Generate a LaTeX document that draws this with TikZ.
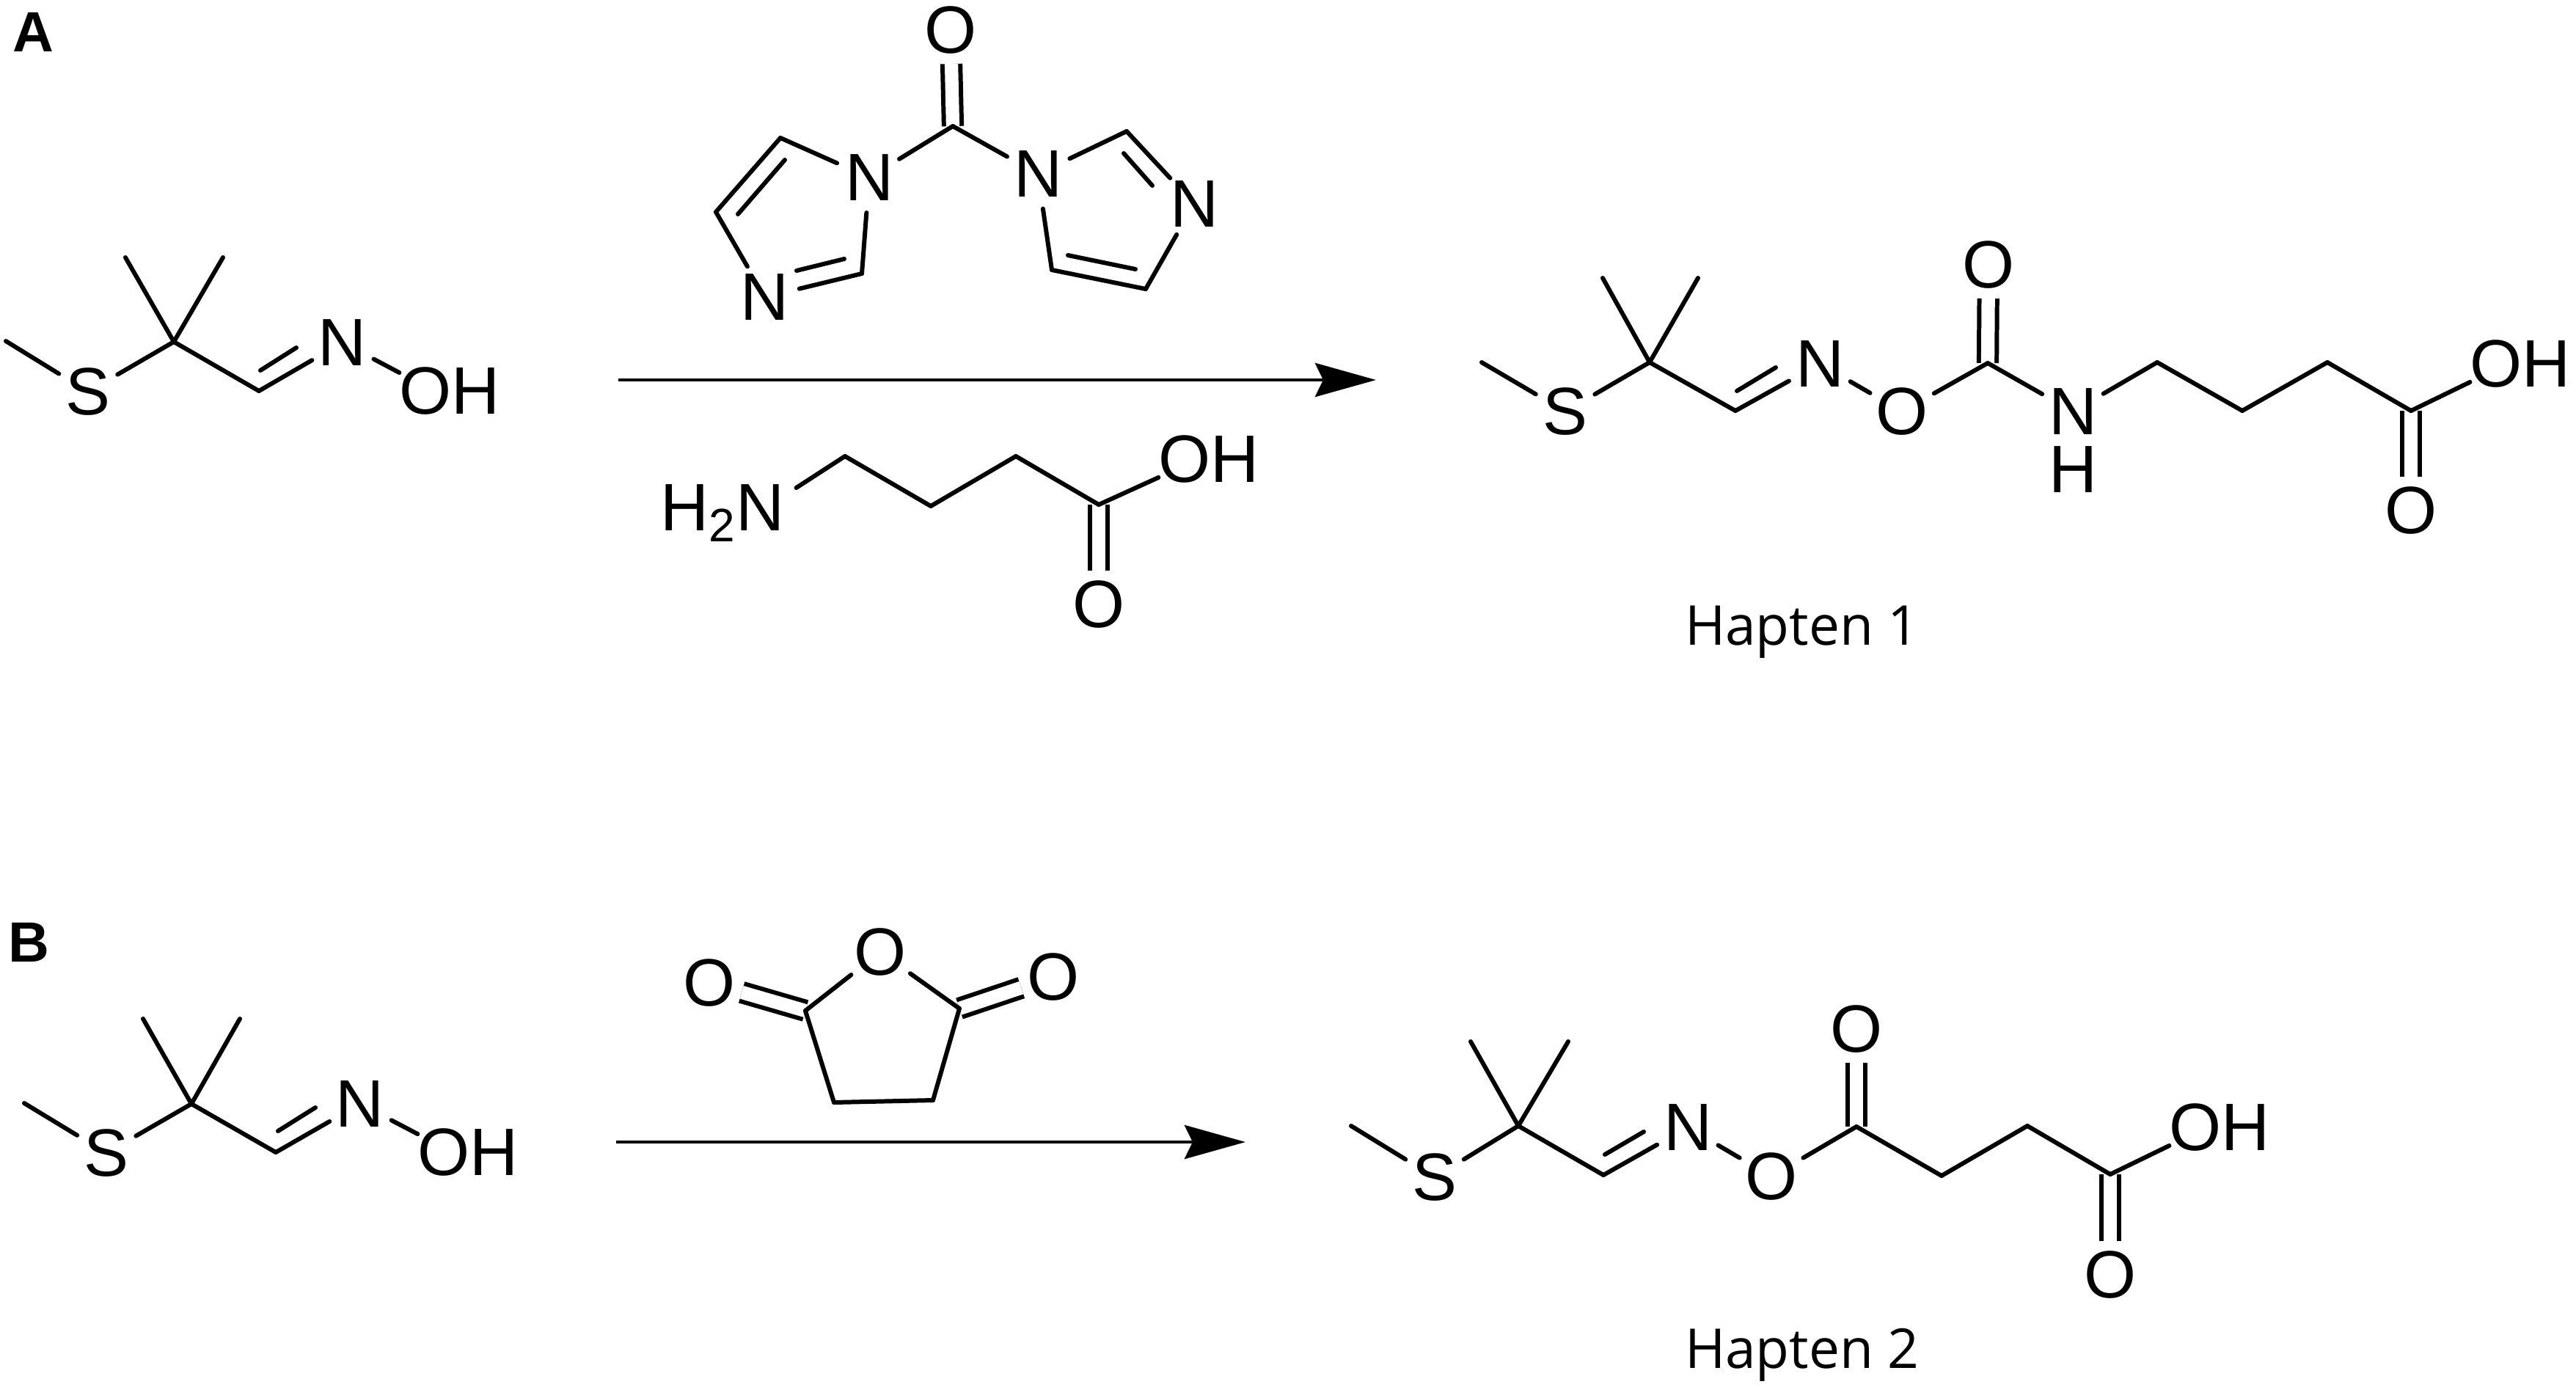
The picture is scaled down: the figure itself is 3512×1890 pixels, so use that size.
\documentclass[tikz,border=0pt]{standalone}
\usepackage{fontspec}
\setmainfont{Liberation Sans}
\newfontfamily\haptenfont{Open Sans}
\usetikzlibrary{arrows.meta}

\begin{document}
\begin{tikzpicture}[
    x=0.01cm, y=-0.01cm,
    line width=1.7pt, line cap=round,
    atom/.style={circle, inner sep=0.5pt, outer sep=0pt, text depth=0pt, font=\fontsize{26}{30}\selectfont},
    grp/.style={atom, rectangle, inner sep=0pt},
    panel/.style={inner sep=0pt, text depth=0pt, font=\fontsize{22}{26}\selectfont\bfseries},
    hapten/.style={anchor=base west, inner sep=0pt, font=\fontsize{21.3}{25}\selectfont\haptenfont},
    dbl/.style={double, double distance=5.2pt, line cap=butt, shorten >=-1.2pt},
    rxn/.style={-{Stealth[length=0.83cm, width=0.46cm, inset=0.11cm]}, line width=1.4pt, line cap=butt}
]
    \useasboundingbox (0,0) rectangle (3512,1890);

    \node[panel] (labelA) at (45,44) {A};
    \node[panel] (labelB) at (39,1285) {B};

    \coordinate (a1me) at (8,465);
    \node[atom] (a1s) at (120,534) {S};
    \coordinate (a1c) at (237,466);
    \coordinate (a1m1) at (171,351);
    \coordinate (a1m2) at (304,351);
    \coordinate (a1ch) at (353,533);
    \coordinate (a1i1) at (355,505);
    \coordinate (a1i2) at (404,474);
    \node[atom] (a1n) at (467,467) {N};
    \node[grp] (a1oh) at (613,533) {OH};

    \draw (a1me) -- (a1s); \draw (a1s) -- (a1c);
    \draw (a1c) -- (a1m1); \draw (a1c) -- (a1m2);
    \draw (a1c) -- (a1ch); \draw (a1ch) -- (a1n);
    \draw (a1i1) -- (a1i2); \draw (a1n) -- (a1oh.160);

    \node[atom] (cdo) at (1296,41) {O};
    \coordinate (cdc) at (1299,172);
    \node[atom] (ln1) at (1185,242) {N};
    \coordinate (lc1) at (1064,188);
    \coordinate (lc2) at (976,289);
    \node[atom] (ln2) at (1043,405) {N};
    \coordinate (lc3) at (1175,373);
    \coordinate (li1) at (1070,218);
    \coordinate (li2) at (1006,292);
    \coordinate (li3) at (1086,369);
    \coordinate (li4) at (1151,353);
    \node[atom] (rn1) at (1415,237) {N};
    \coordinate (rc1) at (1536,179);
    \node[atom] (rn2) at (1628,278) {N};
    \coordinate (rc2) at (1562,394);
    \coordinate (rc3) at (1434,368);
    \coordinate (ri1) at (1532,209);
    \coordinate (ri2) at (1571,253);
    \coordinate (ri3) at (1456,348);
    \coordinate (ri4) at (1548,367);

    \draw[dbl] (cdc) -- (cdo);
    \draw (cdc) -- (ln1); \draw (cdc) -- (rn1);
    \draw (ln1) -- (lc1); \draw (lc1) -- (lc2); \draw (lc2) -- (ln2);
    \draw (ln2) -- (lc3); \draw (lc3) -- (ln1);
    \draw (li1) -- (li2); \draw (li3) -- (li4);
    \draw (rn1) -- (rc1); \draw (rc1) -- (rn2); \draw (rn2) -- (rc2);
    \draw (rc2) -- (rc3); \draw (rc3) -- (rn1);
    \draw (ri1) -- (ri2); \draw (ri3) -- (ri4);

    \coordinate (arrA1) at (843,518);
    \coordinate (arrA2) at (1876,518);
    \draw[rxn] (arrA1) -- (arrA2);

    \node[grp, inner xsep=4.5pt] (gn) at (985,692) {H\textsubscript{2}N};
    \coordinate (g1) at (1152,622);
    \coordinate (g2) at (1269,690);
    \coordinate (g3) at (1385,622);
    \coordinate (g4) at (1498,688);
    \node[grp] (goh) at (1648,626) {OH};
    \node[atom] (go) at (1498,824) {O};

    \draw[dbl] (g4) -- (go);
    \draw (gn.15) -- (g1); \draw (g1) -- (g2); \draw (g2) -- (g3);
    \draw (g3) -- (g4); \draw (g4) -- (goh.200);

    \coordinate (h1me) at (2020,494);
    \node[atom] (h1s) at (2134,561) {S};
    \coordinate (h1c) at (2249,494);
    \coordinate (h1m1) at (2185,379);
    \coordinate (h1m2) at (2315,379);
    \coordinate (h1ch) at (2366,560);
    \coordinate (h1i1) at (2368,533);
    \coordinate (h1i2) at (2421,501);
    \node[atom] (h1n) at (2481,496) {N};
    \node[atom] (h1o) at (2593,561) {O};
    \coordinate (h1co) at (2710,495);
    \node[atom] (h1o2) at (2711,361) {O};
    \node[atom] (h1nh) at (2826,561) {N};
    \node[atom] (h1h) at (2826,640) {H};
    \coordinate (h1p1) at (2941,494);
    \coordinate (h1p2) at (3057,560);
    \coordinate (h1p3) at (3173,494);
    \coordinate (h1p4) at (3287,560);
    \node[grp] (h1oh) at (3436,496) {OH};
    \node[atom] (h1o3) at (3287,696) {O};
    \node[hapten] (h1name) at (2294,879) {Hapten 1};

    \draw[dbl] (h1co) -- (h1o2); \draw[dbl] (h1p4) -- (h1o3);
    \draw (h1me) -- (h1s); \draw (h1s) -- (h1c);
    \draw (h1c) -- (h1m1); \draw (h1c) -- (h1m2);
    \draw (h1c) -- (h1ch); \draw (h1ch) -- (h1n);
    \draw (h1i1) -- (h1i2); \draw (h1n) -- (h1o);
    \draw (h1o) -- (h1co); \draw (h1co) -- (h1nh);
    \draw (h1nh) -- (h1p1); \draw (h1p1) -- (h1p2);
    \draw (h1p2) -- (h1p3); \draw (h1p3) -- (h1p4);
    \draw (h1p4) -- (h1oh.200);

    \coordinate (b1me) at (33,1504);
    \node[atom] (b1s) at (145,1572) {S};
    \coordinate (b1c) at (261,1505);
    \coordinate (b1m1) at (195,1389);
    \coordinate (b1m2) at (327,1389);
    \coordinate (b1ch) at (376,1571);
    \coordinate (b1i1) at (379,1542);
    \coordinate (b1i2) at (430,1510);
    \node[atom] (b1n) at (491,1505) {N};
    \node[grp] (b1oh) at (638,1571) {OH};

    \draw (b1me) -- (b1s); \draw (b1s) -- (b1c);
    \draw (b1c) -- (b1m1); \draw (b1c) -- (b1m2);
    \draw (b1c) -- (b1ch); \draw (b1ch) -- (b1n);
    \draw (b1i1) -- (b1i2); \draw (b1n) -- (b1oh.160);

    \node[atom] (so) at (1200,1298) {O};
    \node[atom] (sol) at (967,1340) {O};
    \node[atom] (sor) at (1436,1332) {O};
    \coordinate (scl) at (1098,1378);
    \coordinate (scr) at (1308,1375);
    \coordinate (sbl) at (1137,1503);
    \coordinate (sbr) at (1272,1500);

    \draw[dbl] (scl) -- (sol); \draw[dbl] (scr) -- (sor);
    \draw (scl) -- (so); \draw (so) -- (scr); \draw (scr) -- (sbr);
    \draw (sbr) -- (sbl); \draw (sbl) -- (scl);

    \coordinate (arrB1) at (840,1557);
    \coordinate (arrB2) at (1698,1557);
    \draw[rxn] (arrB1) -- (arrB2);

    \coordinate (h2me) at (1842,1535);
    \node[atom] (h2s) at (1956,1605) {S};
    \coordinate (h2c) at (2070,1535);
    \coordinate (h2m1) at (2005,1420);
    \coordinate (h2m2) at (2138,1420);
    \coordinate (h2ch) at (2186,1602);
    \coordinate (h2i1) at (2188,1574);
    \coordinate (h2i2) at (2241,1543);
    \node[atom] (h2n) at (2301,1537) {N};
    \node[atom] (h2o) at (2415,1604) {O};
    \coordinate (h2co) at (2531,1536);
    \node[atom] (h2o2) at (2531,1403) {O};
    \coordinate (h2p1) at (2647,1603);
    \coordinate (h2p2) at (2764,1535);
    \coordinate (h2p3) at (2877,1601);
    \node[grp] (h2oh) at (3026,1537) {OH};
    \node[atom] (h2o3) at (2877,1738) {O};
    \node[hapten] (h2name) at (2294,1865) {Hapten 2};

    \draw[dbl] (h2co) -- (h2o2); \draw[dbl] (h2p3) -- (h2o3);
    \draw (h2me) -- (h2s); \draw (h2s) -- (h2c);
    \draw (h2c) -- (h2m1); \draw (h2c) -- (h2m2);
    \draw (h2c) -- (h2ch); \draw (h2ch) -- (h2n);
    \draw (h2i1) -- (h2i2); \draw (h2n) -- (h2o);
    \draw (h2o) -- (h2co); \draw (h2co) -- (h2p1);
    \draw (h2p1) -- (h2p2); \draw (h2p2) -- (h2p3);
    \draw (h2p3) -- (h2oh.200);
\end{tikzpicture}
\end{document}
